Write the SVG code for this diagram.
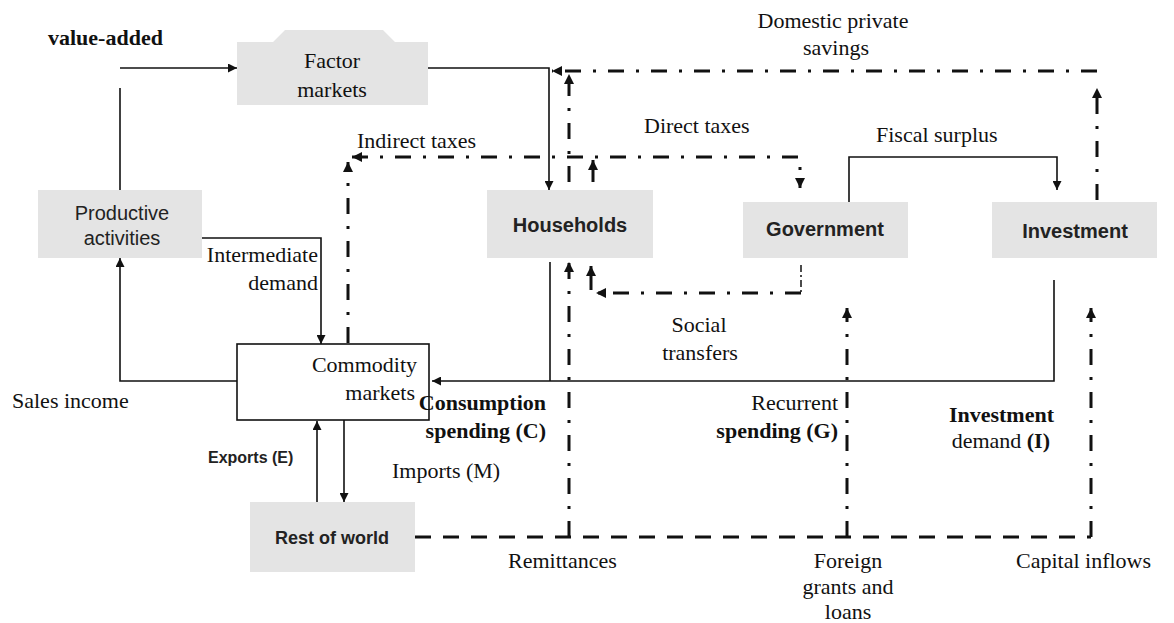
<svg xmlns="http://www.w3.org/2000/svg" width="1174" height="623" viewBox="0 0 1174 623">
<style>
.box{fill:#e4e4e4;stroke:none}
.cbox{fill:#fff;stroke:#111;stroke-width:1.6}
.sf{font-family:"Liberation Serif","Times New Roman",serif;font-size:22px;fill:#111}
.sfb{font-family:"Liberation Serif","Times New Roman",serif;font-size:22px;font-weight:bold;fill:#111}
.ss{font-family:"Liberation Sans",Arial,sans-serif;font-size:20px;fill:#222}
.ssb{font-family:"Liberation Sans",Arial,sans-serif;font-size:20px;font-weight:bold;fill:#222}
.solid{fill:none;stroke:#111;stroke-width:1.6}
.dd{fill:none;stroke:#111;stroke-width:3;stroke-dasharray:16 12 3 12}
.dash{fill:none;stroke:#111;stroke-width:3;stroke-dasharray:16 12}
.bold{fill:none;stroke:#111;stroke-width:3}
.thin{fill:none;stroke:#111;stroke-width:1.5;stroke-dasharray:7 3 2 3}
</style>
<defs>
<marker id="ah" viewBox="0 0 10 10" refX="10" refY="5" markerWidth="9" markerHeight="9" markerUnits="userSpaceOnUse" orient="auto-start-reverse"><path d="M0,0 L10,5 L0,10 z" fill="#111"/></marker>
<marker id="ahb" viewBox="0 0 10 10" refX="10" refY="5" markerWidth="11" markerHeight="10" markerUnits="userSpaceOnUse" orient="auto-start-reverse"><path d="M0,0 L10,5 L0,10 z" fill="#111"/></marker>
</defs>

<g id="factor-markets">
<path class="box" d="M237,42 H273 L285,30 H383 L395,42 H428 V105 H237 Z"/>
<text class="sf" x="332" y="68" text-anchor="middle">Factor</text>
<text class="sf" x="332" y="97" text-anchor="middle">markets</text>
</g>
<g id="productive-activities">
<rect class="box" x="38" y="190" width="164" height="68"/>
<text class="ss" x="122" y="220" text-anchor="middle">Productive</text>
<text class="ss" x="122" y="245" text-anchor="middle">activities</text>
</g>
<g id="households">
<rect class="box" x="487" y="190" width="166" height="68"/>
<text class="ssb" x="570" y="232" text-anchor="middle">Households</text>
</g>
<g id="government">
<rect class="box" x="743" y="202" width="165" height="56"/>
<text class="ssb" x="825" y="236" text-anchor="middle">Government</text>
</g>
<g id="investment">
<rect class="box" x="992" y="202" width="165" height="56"/>
<text class="ssb" x="1075" y="238" text-anchor="middle">Investment</text>
</g>
<g id="commodity-markets">
<rect class="cbox" x="237" y="344" width="192" height="76"/>
<text class="sf" x="417" y="372" text-anchor="end">Commodity</text>
<text class="sf" x="415" y="400" text-anchor="end">markets</text>
</g>
<g id="rest-of-world">
<rect class="box" x="250" y="502" width="165" height="70"/>
<text class="ssb" x="332" y="544" text-anchor="middle" style="font-size:18px">Rest of world</text>
</g>

<g id="connectors">
<path class="solid" d="M120,190 V88"/>
<path class="solid" d="M120,68 H237" marker-end="url(#ah)"/>
<path class="solid" d="M428,68 H549 V190" marker-end="url(#ah)"/>
<path class="solid" d="M849,202 V157 H1057 V190" marker-end="url(#ah)"/>
<path class="solid" d="M202,238 H321 V344" marker-end="url(#ah)"/>
<path class="solid" d="M237,381 H120 V258" marker-end="url(#ah)"/>
<path class="solid" d="M550,262 V381"/>
<path class="solid" d="M1054,280 V381 H432" marker-end="url(#ah)"/>
<path class="solid" d="M317,502 V421" marker-end="url(#ah)"/>
<path class="solid" d="M344,420 V502" marker-end="url(#ah)"/>

<path class="dd" d="M1097,200 V88" marker-end="url(#ahb)"/>
<path class="dd" d="M1097,71 H552" marker-end="url(#ahb)"/>
<path class="dd" d="M569,182 V74" marker-end="url(#ahb)"/>
<path class="bold" d="M593,182 V160" marker-end="url(#ahb)"/>
<path class="dd" d="M352,157 H800 V188" marker-start="url(#ahb)" marker-end="url(#ahb)"/>
<path class="dd" d="M348,343 V162" marker-end="url(#ahb)"/>
<path class="thin" d="M801,265 V295"/>
<path class="dd" d="M801,293 H596" marker-end="url(#ahb)"/>
<path class="bold" d="M591,290 V266" marker-end="url(#ahb)"/>
<path class="dash" d="M415,537 H1091"/>
<path class="dd" d="M569,537 V262" marker-end="url(#ahb)"/>
<path class="dd" d="M847,537 V308" marker-end="url(#ahb)"/>
<path class="dd" d="M1091,537 V308" marker-end="url(#ahb)"/>
</g>

<g id="labels">
<text class="sfb" x="48" y="45">value-added</text>
<text class="sf" x="833" y="28" text-anchor="middle">Domestic private</text>
<text class="sf" x="836" y="55" text-anchor="middle">savings</text>
<text class="sf" x="357" y="148">Indirect taxes</text>
<text class="sf" x="644" y="133">Direct taxes</text>
<text class="sf" x="876" y="142">Fiscal surplus</text>
<text class="sf" x="318" y="262" text-anchor="end">Intermediate</text>
<text class="sf" x="318" y="290" text-anchor="end">demand</text>
<text class="sf" x="12" y="408">Sales income</text>
<text class="sf" x="699" y="332" text-anchor="middle">Social</text>
<text class="sf" x="700" y="360" text-anchor="middle">transfers</text>
<text class="sfb" x="546" y="410" text-anchor="end">Consumption</text>
<text class="sfb" x="546" y="438" text-anchor="end">spending (C)</text>
<text class="sf" x="838" y="410" text-anchor="end">Recurrent</text>
<text class="sfb" x="838" y="438" text-anchor="end">spending (G)</text>
<text class="sfb" x="1054" y="422" text-anchor="end">Investment</text>
<text class="sf" x="1050" y="448" text-anchor="end">demand <tspan font-weight="bold">(I)</tspan></text>
<text class="ssb" x="208" y="463" style="font-size:16px">Exports (E)</text>
<text class="sf" x="392" y="478">Imports (M)</text>
<text class="sf" x="508" y="568">Remittances</text>
<text class="sf" x="848" y="568" text-anchor="middle">Foreign</text>
<text class="sf" x="848" y="594" text-anchor="middle">grants and</text>
<text class="sf" x="848" y="619" text-anchor="middle">loans</text>
<text class="sf" x="1016" y="568">Capital inflows</text>
</g>
</svg>
